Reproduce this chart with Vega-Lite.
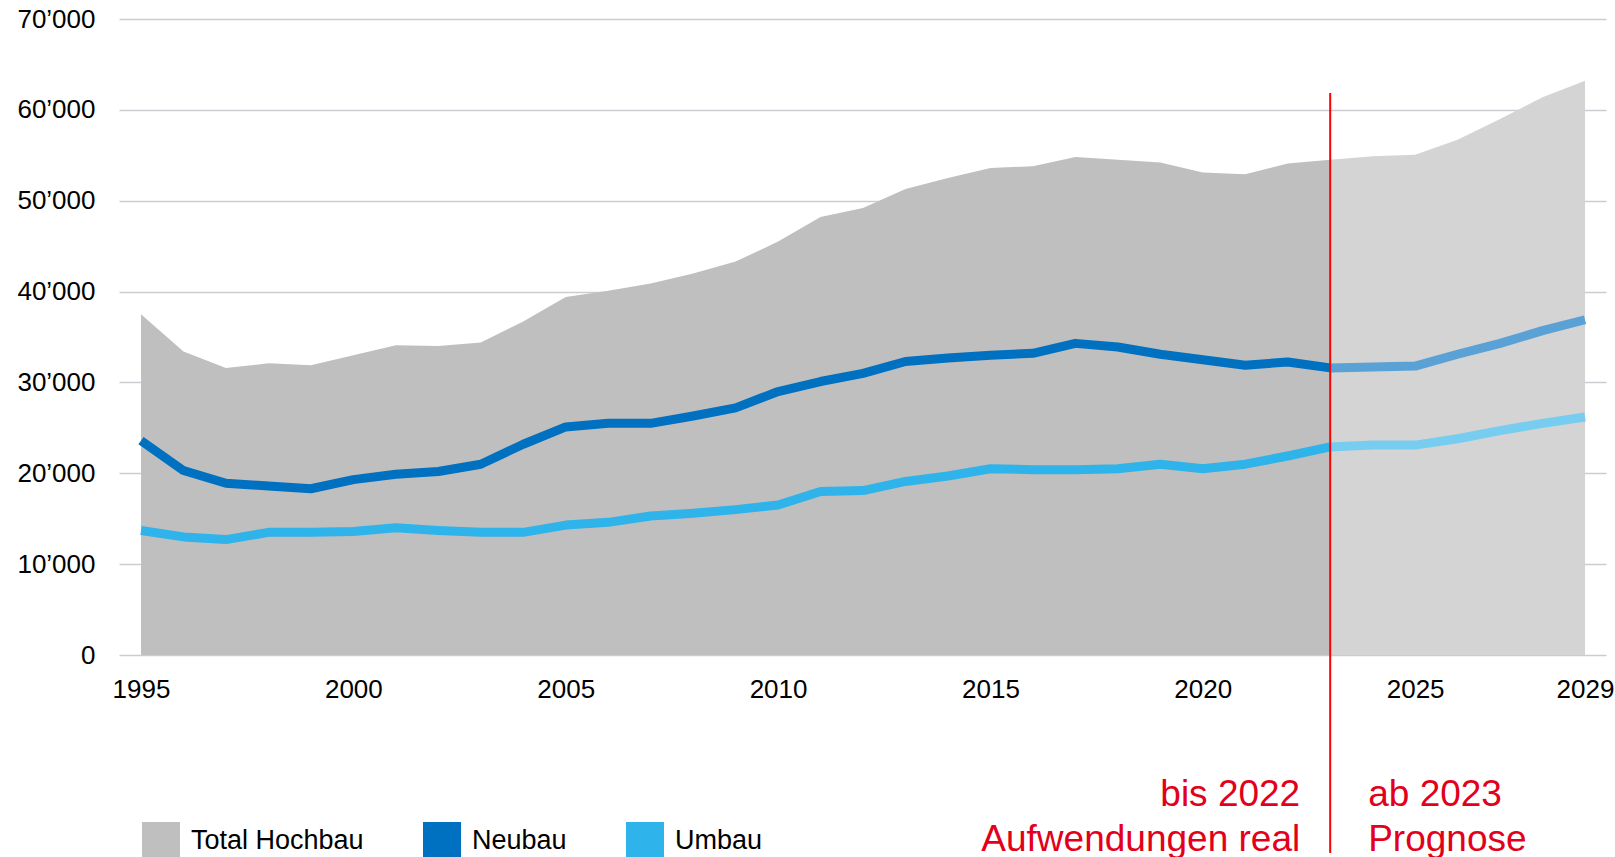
{
  "$schema": "https://vega.github.io/schema/vega-lite/v6.json",
  "width": 1487,
  "height": 636,
  "autosize": {"type": "none"},
  "padding": {"left": 119, "top": 19, "right": 9, "bottom": 202},
  "background": "white",
  "config": {
    "view": {"stroke": null},
    "font": "Liberation Sans",
    "axis": {"labelFont": "Liberation Sans", "labelFontSize": 26, "labelColor": "#000000", "domain": false, "ticks": false, "tickSize": 0, "title": null},
    "legend": {"labelFont": "Liberation Sans", "labelFontSize": 27, "labelColor": "#000000"}
  },
  "data": {
    "values": [
      {"year": 1995, "series": "Total Hochbau", "value": 37500},
      {"year": 1996, "series": "Total Hochbau", "value": 33400},
      {"year": 1997, "series": "Total Hochbau", "value": 31600},
      {"year": 1998, "series": "Total Hochbau", "value": 32100},
      {"year": 1999, "series": "Total Hochbau", "value": 31900},
      {"year": 2000, "series": "Total Hochbau", "value": 33000},
      {"year": 2001, "series": "Total Hochbau", "value": 34100},
      {"year": 2002, "series": "Total Hochbau", "value": 34000},
      {"year": 2003, "series": "Total Hochbau", "value": 34400},
      {"year": 2004, "series": "Total Hochbau", "value": 36700},
      {"year": 2005, "series": "Total Hochbau", "value": 39400},
      {"year": 2006, "series": "Total Hochbau", "value": 40100},
      {"year": 2007, "series": "Total Hochbau", "value": 40900},
      {"year": 2008, "series": "Total Hochbau", "value": 42000},
      {"year": 2009, "series": "Total Hochbau", "value": 43300},
      {"year": 2010, "series": "Total Hochbau", "value": 45500},
      {"year": 2011, "series": "Total Hochbau", "value": 48200},
      {"year": 2012, "series": "Total Hochbau", "value": 49200},
      {"year": 2013, "series": "Total Hochbau", "value": 51300},
      {"year": 2014, "series": "Total Hochbau", "value": 52500},
      {"year": 2015, "series": "Total Hochbau", "value": 53600},
      {"year": 2016, "series": "Total Hochbau", "value": 53800},
      {"year": 2017, "series": "Total Hochbau", "value": 54800},
      {"year": 2018, "series": "Total Hochbau", "value": 54500},
      {"year": 2019, "series": "Total Hochbau", "value": 54200},
      {"year": 2020, "series": "Total Hochbau", "value": 53100},
      {"year": 2021, "series": "Total Hochbau", "value": 52900},
      {"year": 2022, "series": "Total Hochbau", "value": 54100},
      {"year": 2023, "series": "Total Hochbau", "value": 54500},
      {"year": 2024, "series": "Total Hochbau", "value": 54900},
      {"year": 2025, "series": "Total Hochbau", "value": 55050},
      {"year": 2026, "series": "Total Hochbau", "value": 56700},
      {"year": 2027, "series": "Total Hochbau", "value": 59000},
      {"year": 2028, "series": "Total Hochbau", "value": 61400},
      {"year": 2029, "series": "Total Hochbau", "value": 63200},
      {"year": 1995, "series": "Neubau", "value": 23600},
      {"year": 1996, "series": "Neubau", "value": 20300},
      {"year": 1997, "series": "Neubau", "value": 18900},
      {"year": 1998, "series": "Neubau", "value": 18600},
      {"year": 1999, "series": "Neubau", "value": 18300},
      {"year": 2000, "series": "Neubau", "value": 19300},
      {"year": 2001, "series": "Neubau", "value": 19900},
      {"year": 2002, "series": "Neubau", "value": 20200},
      {"year": 2003, "series": "Neubau", "value": 21000},
      {"year": 2004, "series": "Neubau", "value": 23200},
      {"year": 2005, "series": "Neubau", "value": 25100},
      {"year": 2006, "series": "Neubau", "value": 25500},
      {"year": 2007, "series": "Neubau", "value": 25500},
      {"year": 2008, "series": "Neubau", "value": 26300},
      {"year": 2009, "series": "Neubau", "value": 27200},
      {"year": 2010, "series": "Neubau", "value": 29000},
      {"year": 2011, "series": "Neubau", "value": 30100},
      {"year": 2012, "series": "Neubau", "value": 31000},
      {"year": 2013, "series": "Neubau", "value": 32300},
      {"year": 2014, "series": "Neubau", "value": 32700},
      {"year": 2015, "series": "Neubau", "value": 33000},
      {"year": 2016, "series": "Neubau", "value": 33200},
      {"year": 2017, "series": "Neubau", "value": 34300},
      {"year": 2018, "series": "Neubau", "value": 33900},
      {"year": 2019, "series": "Neubau", "value": 33100},
      {"year": 2020, "series": "Neubau", "value": 32500},
      {"year": 2021, "series": "Neubau", "value": 31900},
      {"year": 2022, "series": "Neubau", "value": 32250},
      {"year": 2023, "series": "Neubau", "value": 31600},
      {"year": 2024, "series": "Neubau", "value": 31700},
      {"year": 2025, "series": "Neubau", "value": 31800},
      {"year": 2026, "series": "Neubau", "value": 33100},
      {"year": 2027, "series": "Neubau", "value": 34300},
      {"year": 2028, "series": "Neubau", "value": 35700},
      {"year": 2029, "series": "Neubau", "value": 36900},
      {"year": 1995, "series": "Umbau", "value": 13700},
      {"year": 1996, "series": "Umbau", "value": 13000},
      {"year": 1997, "series": "Umbau", "value": 12700},
      {"year": 1998, "series": "Umbau", "value": 13500},
      {"year": 1999, "series": "Umbau", "value": 13500},
      {"year": 2000, "series": "Umbau", "value": 13600},
      {"year": 2001, "series": "Umbau", "value": 14000},
      {"year": 2002, "series": "Umbau", "value": 13700},
      {"year": 2003, "series": "Umbau", "value": 13500},
      {"year": 2004, "series": "Umbau", "value": 13500},
      {"year": 2005, "series": "Umbau", "value": 14300},
      {"year": 2006, "series": "Umbau", "value": 14600},
      {"year": 2007, "series": "Umbau", "value": 15300},
      {"year": 2008, "series": "Umbau", "value": 15600},
      {"year": 2009, "series": "Umbau", "value": 16000},
      {"year": 2010, "series": "Umbau", "value": 16500},
      {"year": 2011, "series": "Umbau", "value": 18000},
      {"year": 2012, "series": "Umbau", "value": 18100},
      {"year": 2013, "series": "Umbau", "value": 19100},
      {"year": 2014, "series": "Umbau", "value": 19700},
      {"year": 2015, "series": "Umbau", "value": 20500},
      {"year": 2016, "series": "Umbau", "value": 20400},
      {"year": 2017, "series": "Umbau", "value": 20400},
      {"year": 2018, "series": "Umbau", "value": 20500},
      {"year": 2019, "series": "Umbau", "value": 21000},
      {"year": 2020, "series": "Umbau", "value": 20500},
      {"year": 2021, "series": "Umbau", "value": 21000},
      {"year": 2022, "series": "Umbau", "value": 21900},
      {"year": 2023, "series": "Umbau", "value": 22900},
      {"year": 2024, "series": "Umbau", "value": 23100},
      {"year": 2025, "series": "Umbau", "value": 23100},
      {"year": 2026, "series": "Umbau", "value": 23800},
      {"year": 2027, "series": "Umbau", "value": 24700},
      {"year": 2028, "series": "Umbau", "value": 25500},
      {"year": 2029, "series": "Umbau", "value": 26200}
    ]
  },
  "encoding": {
    "x": {
      "field": "year",
      "type": "quantitative",
      "scale": {"domain": [1994.482, 2029.494], "nice": false, "zero": false},
      "axis": {"values": [1995, 2000, 2005, 2010, 2015, 2020, 2025, 2029], "format": "d", "grid": false, "labelPadding": 21, "labelFlush": false, "labelOverlap": false, "labelBound": false}
    },
    "y": {
      "field": "value",
      "type": "quantitative",
      "scale": {"domain": [0, 70000], "nice": false},
      "axis": {"values": [0, 10000, 20000, 30000, 40000, 50000, 60000, 70000], "labelExpr": "replace(format(datum.value, ','), ',', '’')", "labelPadding": 24, "grid": true, "gridColor": "#c9cdd1", "gridWidth": 1.6, "labelBaseline": "middle"}
    }
  },
  "layer": [
    {
      "transform": [{"filter": "datum.series == 'Total Hochbau' && datum.year <= 2023"}],
      "mark": {"type": "area", "opacity": 1},
      "encoding": {
        "color": {
          "field": "series",
          "type": "nominal",
          "scale": {"domain": ["Total Hochbau", "Neubau", "Umbau"], "range": ["#bfbfbf", "#0070c0", "#2eb4ea"]},
          "legend": {
            "title": null,
            "orient": "none",
            "legendX": 23,
            "legendY": 803,
            "direction": "horizontal",
            "padding": 0,
            "symbolType": "square",
            "symbolSize": 1444,
            "symbolStrokeWidth": 0,
            "symbolOpacity": 1,
            "labelOffset": 11,
            "columnPadding": 59,
            "labelLimit": 400,
            "encode": {"symbols": {"update": {"fill": {"scale": "color", "field": "value"}, "stroke": {"value": "transparent"}, "shape": {"value": "square"}, "size": {"value": 1444}, "opacity": {"value": 1}}}}
          }
        }
      }
    },
    {
      "transform": [{"filter": "datum.series == 'Total Hochbau' && datum.year >= 2023"}],
      "mark": {"type": "area", "color": "#d4d4d4", "opacity": 1}
    },
    {
      "transform": [{"filter": "datum.series != 'Total Hochbau' && datum.year <= 2023"}],
      "mark": {"type": "line", "strokeWidth": 9, "strokeJoin": "round"},
      "encoding": {
        "color": {"field": "series", "type": "nominal"},
        "detail": {"field": "series"}
      }
    },
    {
      "transform": [{"filter": "datum.series == 'Neubau' && datum.year >= 2023"}],
      "mark": {"type": "line", "strokeWidth": 9, "strokeJoin": "round", "color": "#5aa1d6"}
    },
    {
      "transform": [{"filter": "datum.series == 'Umbau' && datum.year >= 2023"}],
      "mark": {"type": "line", "strokeWidth": 9, "strokeJoin": "round", "color": "#76cdf0"}
    },
    {
      "transform": [{"filter": "datum.series == 'Total Hochbau' && datum.year == 2023"}],
      "mark": {"type": "rule", "color": "#ff0000", "strokeWidth": 2},
      "encoding": {
        "y": {"datum": 61850, "type": "quantitative"},
        "y2": {"datum": -21790}
      }
    },
    {
      "transform": [{"filter": "datum.series == 'Total Hochbau' && datum.year == 2023"}],
      "mark": {"type": "text", "align": "right", "baseline": "alphabetic", "dx": -30, "font": "Liberation Sans", "fontSize": 37, "fontWeight": "normal", "lineHeight": 45, "fill": "#e2001a", "strokeWidth": 0},
      "encoding": {
        "y": {"datum": -16620, "type": "quantitative"},
        "text": {"value": ["bis 2022", "Aufwendungen real"]}
      }
    },
    {
      "transform": [{"filter": "datum.series == 'Total Hochbau' && datum.year == 2023"}],
      "mark": {"type": "text", "align": "left", "baseline": "alphabetic", "dx": 38, "font": "Liberation Sans", "fontSize": 37, "fontWeight": "normal", "lineHeight": 45, "fill": "#e2001a", "strokeWidth": 0},
      "encoding": {
        "y": {"datum": -16620, "type": "quantitative"},
        "text": {"value": ["ab 2023", "Prognose"]}
      }
    }
  ]
}
